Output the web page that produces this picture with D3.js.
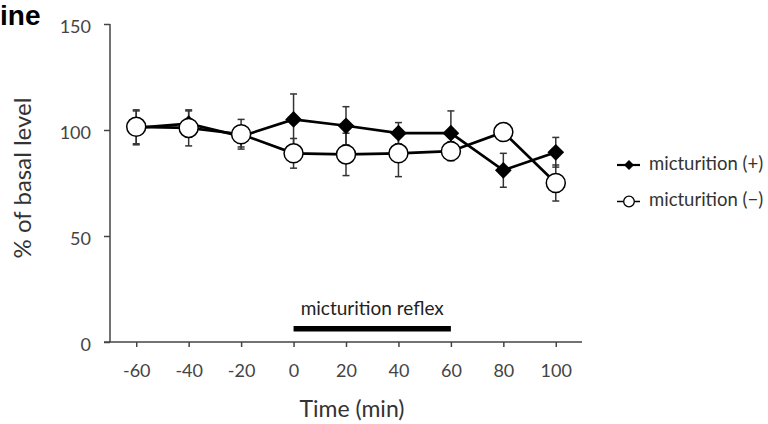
<!DOCTYPE html>
<html><head><meta charset="utf-8">
<script src="https://cdn.jsdelivr.net/npm/d3@7"></script>
<style>body{margin:0;background:#fff}svg{display:block}</style>
</head><body>
<svg id="c" width="768" height="424"></svg>
<script>
const times = [-60, -40, -20, 0, 20, 40, 60, 80, 100];
const plusMean = [101, 103, 97, 105, 102, 98.5, 98.5, 81, 89.5];
const plusErr  = [8, 6, 5, 12, 9, 5, 10.5, 8, 7];
const minusMean = [101.5, 101, 98, 89, 88.5, 89, 90, 99, 75];
const minusErr  = [8, 8.5, 7, 7, 10, 11, 4.5, 3, 8.5];
const xTicks = [-60, -40, -20, 0, 20, 40, 60, 80, 100];
const yTicks = [0, 50, 100, 150];
const reflexRange = [0, 60];

const svg = d3.select("#c");
const font = "Lato, 'Open Sans', sans-serif";
const x = d3.scaleLinear().domain([-70, 110]).range([110, 582]);
const y = d3.scaleLinear().domain([0, 150]).range([342, 24]);

// y axis
const ya = svg.append("g").attr("transform", "translate(110,0)")
  .call(d3.axisLeft(y).tickValues(yTicks).tickSize(6).tickPadding(13));
ya.select(".domain").attr("d", `M0,${y(150)}V${y(0)}`).attr("stroke", "#444").attr("stroke-width", 1.5);
ya.selectAll(".tick line").attr("stroke", "#444").attr("stroke-width", 1.5);
ya.selectAll("text").attr("font-family", font).attr("font-size", 18).attr("fill", "#444").attr("dy", 8.5);

// x axis
const xa = svg.append("g").attr("transform", `translate(0,${y(0)})`)
  .call(d3.axisBottom(x).tickValues(xTicks).tickSize(5).tickFormat(d => String(d)));
xa.select(".domain").attr("d", `M104,0H582`).attr("stroke", "#444").attr("stroke-width", 1.5);
xa.selectAll(".tick line").attr("stroke", "#444").attr("stroke-width", 1.5);
xa.selectAll("text").attr("font-family", font).attr("font-size", 18).attr("fill", "#444")
  .attr("y", 35).attr("dy", null);

// labels
svg.append("text").attr("x", 352).attr("y", 417).attr("text-anchor", "middle")
  .attr("font-family", font).attr("font-size", 23).attr("fill", "#333").text("Time (min)");
svg.append("text").attr("transform", "translate(31,178) rotate(-90)").attr("text-anchor", "middle")
  .attr("font-family", font).attr("font-size", 24).attr("fill", "#333").text("% of basal level");
svg.append("text").attr("x", 0).attr("y", 25).attr("font-family", "'Liberation Sans', Arial, sans-serif")
  .attr("font-weight", "bold").attr("font-size", 28).attr("fill", "#000").text("ine");

// reflex bar
svg.append("line").attr("x1", x(reflexRange[0])).attr("x2", x(reflexRange[1]))
  .attr("y1", 328.7).attr("y2", 328.7).attr("stroke", "#000").attr("stroke-width", 5.5);
svg.append("text").attr("x", (x(reflexRange[0]) + x(reflexRange[1])) / 2).attr("y", 315)
  .attr("text-anchor", "middle").attr("font-family", font).attr("font-size", 19).attr("fill", "#222")
  .text("micturition reflex");

const plus = times.map((t, i) => ({t, m: plusMean[i], e: plusErr[i]}));
const minus = times.map((t, i) => ({t, m: minusMean[i], e: minusErr[i]}));

function errBars(data) {
  const g = svg.append("g").attr("stroke", "#333").attr("stroke-width", 1.5);
  data.forEach(d => {
    g.append("line").attr("x1", x(d.t)).attr("x2", x(d.t)).attr("y1", y(d.m - d.e)).attr("y2", y(d.m + d.e));
    [d.m - d.e, d.m + d.e].forEach(v => g.append("line").attr("x1", x(d.t) - 3.5).attr("x2", x(d.t) + 3.5)
      .attr("y1", y(v)).attr("y2", y(v)));
  });
}
errBars(plus); errBars(minus);

const line = d3.line().x(d => x(d.t)).y(d => y(d.m));
svg.append("path").datum(plus).attr("d", line).attr("fill", "none").attr("stroke", "#000").attr("stroke-width", 2.7);
svg.append("path").datum(minus).attr("d", line).attr("fill", "none").attr("stroke", "#000").attr("stroke-width", 2.7);

const diamond = d3.symbol().type(d3.symbolSquare).size(140);
svg.append("g").selectAll("path").data(plus).join("path")
  .attr("transform", d => `translate(${x(d.t)},${y(d.m)}) rotate(45)`).attr("d", diamond).attr("fill", "#000");
svg.append("g").selectAll("circle").data(minus).join("circle")
  .attr("cx", d => x(d.t)).attr("cy", d => y(d.m)).attr("r", 9.5)
  .attr("fill", "#fff").attr("stroke", "#000").attr("stroke-width", 1.5);

// legend
const leg = svg.append("g").attr("font-family", font).attr("font-size", 18.5).attr("fill", "#333");
leg.append("line").attr("x1", 617).attr("x2", 640).attr("y1", 165).attr("y2", 165).attr("stroke", "#000").attr("stroke-width", 2.2);
leg.append("path").attr("transform", "translate(629,165) rotate(45)").attr("d", d3.symbol().type(d3.symbolSquare).size(50)).attr("fill", "#000");
leg.append("text").attr("x", 649).attr("y", 170).text("micturition (+)");
leg.append("line").attr("x1", 617).attr("x2", 640).attr("y1", 201.5).attr("y2", 201.5).attr("stroke", "#000").attr("stroke-width", 1.5);
leg.append("circle").attr("cx", 629).attr("cy", 201.5).attr("r", 5.3).attr("fill", "#fff").attr("stroke", "#000").attr("stroke-width", 1.3);
leg.append("text").attr("x", 649).attr("y", 206).text("micturition (−)");
</script>
</body></html>
